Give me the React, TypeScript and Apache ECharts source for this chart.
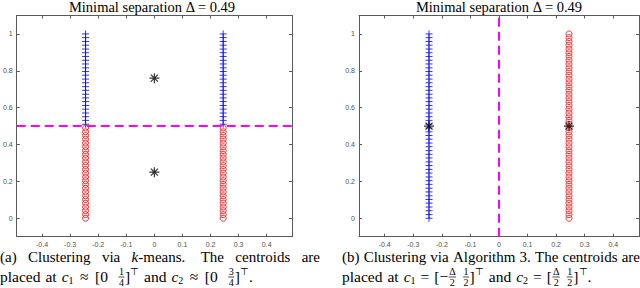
import React, { useEffect, useRef } from "react";
import * as echarts from "echarts";

// ---------- data ----------
const delta = 0.49;
const clusterX = [-0.245, 0.245];
const lowerY = [0, 0.02, 0.041, 0.061, 0.082, 0.102, 0.122, 0.143, 0.163, 0.184, 0.204, 0.224, 0.245, 0.265, 0.286, 0.306, 0.327, 0.347, 0.367, 0.388, 0.408, 0.429, 0.449, 0.469, 0.49];
const upperY = [0.51, 0.531, 0.551, 0.571, 0.592, 0.612, 0.633, 0.653, 0.673, 0.694, 0.714, 0.735, 0.755, 0.776, 0.796, 0.816, 0.837, 0.857, 0.878, 0.898, 0.918, 0.939, 0.959, 0.98, 1];
const kmeansCentroids = [[0, 0.25], [0, 0.76]];
const algoCentroids = [[-0.245, 0.5], [0.245, 0.5]];
const kmeansBoundaryY = 0.5;
const algoBoundaryX = 0;
const xTicks = [-0.4, -0.3, -0.2, -0.1, 0, 0.1, 0.2, 0.3, 0.4];
const yTicks = [0, 0.2, 0.4, 0.6, 0.8, 1];
const xRange = [-0.49, 0.49];
const yRange = [-0.1, 1.1];

// ---------- styles ----------
const SERIF = "'Liberation Serif','Times New Roman',serif";
const SANS = "'Liberation Sans',Arial,sans-serif";
const AX = "#5a5a5a";
const BLUE = "#0000ff";
const RED = "#ff0000";
const MAGENTA = "#ff00ff";
const PLUS = "path://M0,3L6,3M3,0L3,6";
const STAR = "path://M5,0L5,10M0,5L10,5M1.5,1.5L8.5,8.5M1.5,8.5L8.5,1.5";

type Tok = { t?: string; it?: boolean; sub?: boolean; sup?: boolean; frac?: [string, string]; sp?: number | "j" };

function buildLine(tokens: Tok[], x0: number, y: number, size: number, justifyTo?: number): any[] {
  const small = Math.round(size * 0.66);
  const ctx = document.createElement("canvas").getContext("2d")!;
  const mw = (t: string, sz: number, it?: boolean) => {
    ctx.font = `${it ? "italic " : ""}${sz}px ${SERIF}`;
    return ctx.measureText(t).width;
  };
  const natSpace = mw(" ", size);
  const widths = tokens.map((k) => {
    if (k.sp !== undefined) return k.sp === "j" ? natSpace : k.sp;
    if (k.frac) return Math.max(mw(k.frac[0], small), mw(k.frac[1], small)) + 2;
    return mw(k.t!, k.sub || k.sup ? small : size, k.it);
  });
  let extra = 0;
  if (justifyTo !== undefined) {
    const total = widths.reduce((a, b) => a + b, 0);
    const nj = tokens.filter((k) => k.sp === "j").length;
    if (nj) extra = (justifyTo - x0 - total) / nj;
  }
  const els: any[] = [];
  let x = x0;
  tokens.forEach((k, i) => {
    let w = widths[i];
    if (k.sp !== undefined) {
      if (k.sp === "j") w += extra;
      x += w;
      return;
    }
    if (k.frac) {
      const xc = x + w / 2;
      els.push({ type: "text", x: xc, y: y - 4.5, style: { text: k.frac[0], fontSize: small, fontFamily: SERIF, fill: "#000", textAlign: "center", textVerticalAlign: "middle" } });
      els.push({ type: "text", x: xc, y: y + 6, style: { text: k.frac[1], fontSize: small, fontFamily: SERIF, fill: "#000", textAlign: "center", textVerticalAlign: "middle" } });
      els.push({ type: "line", shape: { x1: x + 0.5, y1: y + 1, x2: x + w - 0.5, y2: y + 1 }, style: { stroke: "#000", lineWidth: 0.7 } });
      x += w;
      return;
    }
    const sz = k.sub || k.sup ? small : size;
    const dy = k.sub ? 4 : k.sup ? -5 : 0;
    els.push({ type: "text", x, y: y + dy, style: { text: k.t, fontSize: sz, fontFamily: SERIF, fontStyle: k.it ? "italic" : "normal", fill: "#000", textAlign: "left", textVerticalAlign: "middle" } });
    x += w;
  });
  return els;
}

const J: Tok = { sp: "j" };
const S = (n: number): Tok => ({ sp: n });

const capA1: Tok[] = [{ t: "(a)" }, J, { t: "Clustering" }, J, { t: "via" }, J, { t: "k", it: true }, { t: "-means." }, J, S(4), { t: "The" }, J, { t: "centroids" }, J, { t: "are" }];
const capA2: Tok[] = [
  { t: "placed" }, S(5), { t: "at" }, S(5), { t: "c", it: true }, { t: "1", sub: true }, S(6.5), { t: "≈" }, S(6.5), { t: "[0" }, S(10), { frac: ["1", "4"] }, { t: "]" }, { t: "⊤", sup: true }, S(5),
  { t: "and" }, S(5), { t: "c", it: true }, { t: "2", sub: true }, S(6.5), { t: "≈" }, S(6.5), { t: "[0" }, S(10), { frac: ["3", "4"] }, { t: "]" }, { t: "⊤", sup: true }, { t: "." },
];
const capB1: Tok[] = [{ t: "(b)" }, J, { t: "Clustering" }, J, { t: "via" }, J, { t: "Algorithm" }, J, { t: "3." }, J, { t: "The" }, J, { t: "centroids" }, J, { t: "are" }];
const capB2: Tok[] = [
  { t: "placed" }, S(5), { t: "at" }, S(5), { t: "c", it: true }, { t: "1", sub: true }, S(5), { t: "=" }, S(5), { t: "[−" }, { frac: ["Δ", "2"] }, S(6), { frac: ["1", "2"] }, { t: "]" }, { t: "⊤", sup: true }, S(5),
  { t: "and" }, S(5), { t: "c", it: true }, { t: "2", sub: true }, S(5), { t: "=" }, S(5), { t: "[" }, { frac: ["Δ", "2"] }, S(6), { frac: ["1", "2"] }, { t: "]" }, { t: "⊤", sup: true }, { t: "." },
];

const GRIDS = [
  { left: 12, top: 15.5, width: 280, height: 221.2 },
  { left: 359, top: 15.5, width: 280, height: 221.2 },
];

function axisPair(kind: "x" | "y", grid: number) {
  const ticks = kind === "x" ? xTicks : yTicks;
  const range = kind === "x" ? xRange : yRange;
  const base = {
    type: "value",
    gridIndex: grid,
    min: range[0],
    max: range[1],
    splitLine: { show: false },
    axisLine: { show: true, onZero: false, lineStyle: { color: AX, width: 1 } },
    axisTick: { show: true, inside: true, length: 3, customValues: ticks, lineStyle: { color: AX, width: 1 } },
  };
  return [
    { ...base, position: kind === "x" ? "bottom" : "left", axisLabel: { show: true, customValues: ticks, fontSize: 7, color: "#505050", fontFamily: SANS, margin: 4 } },
    { ...base, position: kind === "x" ? "top" : "right", axisLabel: { show: false } },
  ];
}

export default function App() {
  const ref = useRef<HTMLDivElement>(null);
  useEffect(() => {
    if (!ref.current) return;
    const chart = echarts.init(ref.current, null, { renderer: "svg" });
    const ptsAt = (xs: number[], ys: number[]) => xs.flatMap((x) => ys.map((y) => [x, y]));
    const allY = [...lowerY, ...upperY];
    const plusStyle = { symbol: PLUS, symbolSize: 7, itemStyle: { color: "none", borderColor: BLUE, borderWidth: 1 } };
    const circStyle = { symbol: "circle", symbolSize: 6, itemStyle: { color: "transparent", borderColor: RED, borderWidth: 1 } };
    const starStyle = { symbol: STAR, symbolSize: 10, itemStyle: { color: "none", borderColor: "#000", borderWidth: 1.2 } };
    const dash = { color: MAGENTA, width: 2, type: [9, 5] as any };

    const graphic: any[] = [
      { type: "text", x: 152, y: 7, style: { text: "Minimal separation Δ = " + delta.toFixed(2), fontSize: 14.5, fontFamily: SERIF, fill: "#000", textAlign: "center", textVerticalAlign: "middle" } },
      { type: "text", x: 499, y: 7, style: { text: "Minimal separation Δ = " + delta.toFixed(2), fontSize: 14.5, fontFamily: SERIF, fill: "#000", textAlign: "center", textVerticalAlign: "middle" } },
      ...buildLine(capA1, 0, 256.5, 15, 320),
      ...buildLine(capA2, 0, 276, 15.5),
      ...buildLine(capB1, 342, 256.5, 15, 640),
      ...buildLine(capB2, 342, 276, 15.5),
    ];

    chart.setOption({
      animation: false,
      grid: GRIDS,
      xAxis: [...axisPair("x", 0), ...axisPair("x", 1)],
      yAxis: [...axisPair("y", 0), ...axisPair("y", 1)],
      series: [
        { type: "scatter", xAxisIndex: 0, yAxisIndex: 0, data: ptsAt(clusterX, upperY), ...plusStyle },
        { type: "scatter", xAxisIndex: 0, yAxisIndex: 0, data: ptsAt(clusterX, lowerY), ...circStyle },
        { type: "line", xAxisIndex: 0, yAxisIndex: 0, data: [[xRange[0], kmeansBoundaryY], [xRange[1], kmeansBoundaryY]], symbol: "none", lineStyle: dash },
        { type: "scatter", xAxisIndex: 0, yAxisIndex: 0, data: kmeansCentroids, ...starStyle },
        { type: "scatter", xAxisIndex: 2, yAxisIndex: 2, data: ptsAt([clusterX[0]], allY), ...plusStyle },
        { type: "scatter", xAxisIndex: 2, yAxisIndex: 2, data: ptsAt([clusterX[1]], allY), ...circStyle },
        { type: "line", xAxisIndex: 2, yAxisIndex: 2, data: [[algoBoundaryX, yRange[0]], [algoBoundaryX, yRange[1]]], symbol: "none", lineStyle: dash },
        { type: "scatter", xAxisIndex: 2, yAxisIndex: 2, data: algoCentroids, ...starStyle },
      ],
      graphic,
    });
    return () => chart.dispose();
  }, []);
  return <div ref={ref} style={{ width: 640, height: 288, position: "absolute", left: 0, top: 0 }} />;
}
